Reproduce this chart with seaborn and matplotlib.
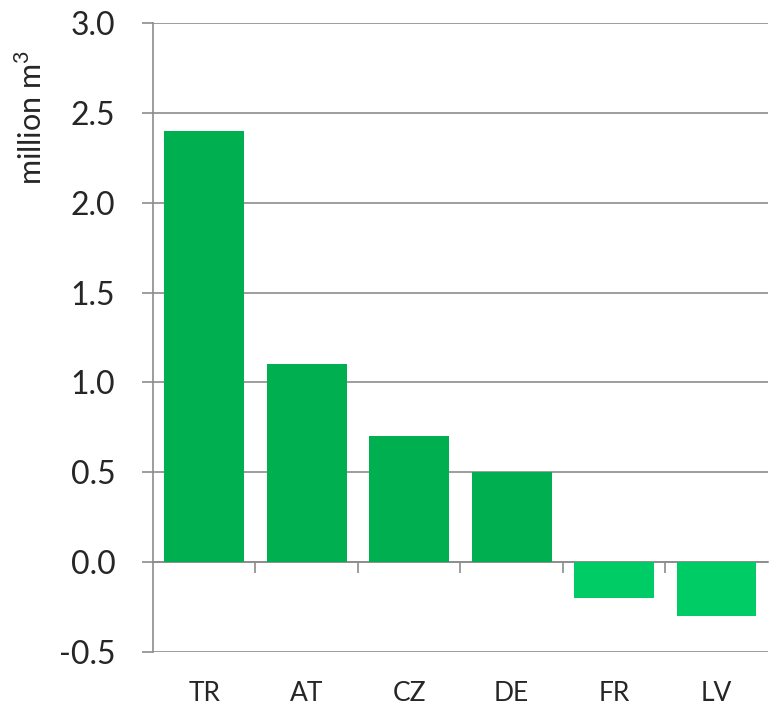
import matplotlib
matplotlib.use("Agg")
import matplotlib.pyplot as plt
import seaborn as sns
import pandas as pd
import numpy as np

categories = ["TR", "AT", "CZ", "DE", "FR", "LV"]
values = [2.4, 1.1, 0.7, 0.5, -0.2, -0.3]
y_ticks = [-0.5, 0.0, 0.5, 1.0, 1.5, 2.0, 2.5, 3.0]
y_label = "million m$^3$"

sns.set_style("white")
plt.rcParams['font.family'] = ['Lato', 'DejaVu Sans']
plt.rcParams['mathtext.fontset'] = 'custom'
plt.rcParams['mathtext.rm'] = 'Lato'

df = pd.DataFrame({"country": categories, "value": values})
df["sign"] = np.where(df["value"] >= 0, "pos", "neg")

fig = plt.figure(figsize=(7.7, 7.06), dpi=100)
ax = fig.add_axes([0.1987, 0.0765, 0.7983, 0.8909])

sns.barplot(data=df, x="country", y="value", hue="sign", order=categories,
            palette={"pos": "#00B050", "neg": "#00CC66"}, dodge=False,
            width=0.78, legend=False, ax=ax, saturation=1, linewidth=0)

ax.set_ylim(-0.5, 3.0)
ax.set_xlim(-0.5, len(categories) - 0.5)
ax.set_yticks(y_ticks)
ax.set_yticklabels([f"{t:.1f}" for t in y_ticks], fontsize=23)
ax.yaxis.grid(True, color="#8c8c8c", linewidth=1.2)
ax.set_axisbelow(True)
ax.tick_params(axis="y", length=8, width=1.2, color="#8c8c8c", pad=19, left=True)

for s in ["top", "right", "bottom"]:
    ax.spines[s].set_visible(False)
ax.spines["left"].set_color("#8c8c8c")
ax.spines["left"].set_linewidth(1.2)

ax.tick_params(axis="x", length=0, pad=21, labelsize=19)
ax.set_xlabel("")
ax.set_ylabel(y_label, fontsize=22)
ax.yaxis.set_label_coords(-0.172, 0.849)

# zero axis with category boundary ticks
sec = ax.secondary_xaxis(0.5 / 3.5)
sec.set_xticks(np.arange(0.5, len(categories) - 1, 1.0))
sec.set_xticklabels([])
sec.tick_params(length=8, width=1.2, color="#8c8c8c", direction="out")
sec.spines["bottom"].set_color("#8c8c8c")
sec.spines["bottom"].set_linewidth(1.2)

fig.savefig("out.png", dpi=100)
